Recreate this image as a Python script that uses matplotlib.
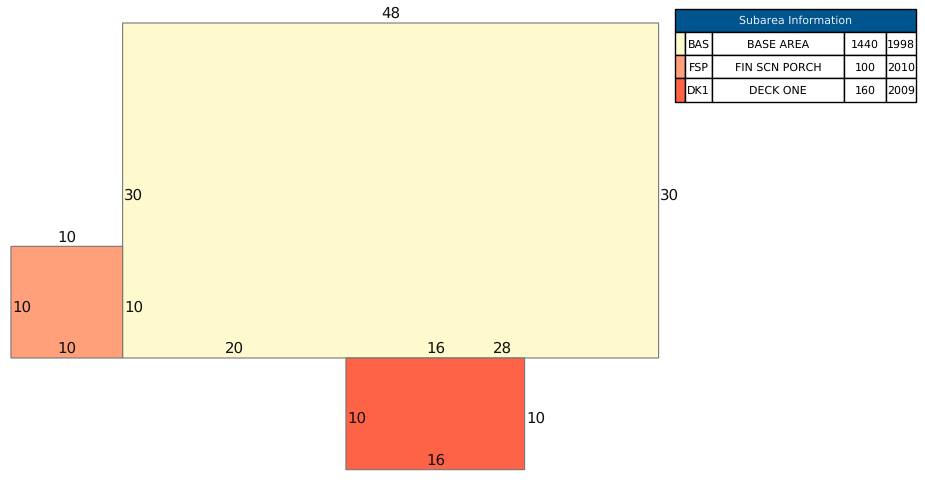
import matplotlib
matplotlib.use('Agg')
import matplotlib.pyplot as plt
from matplotlib.patches import Rectangle

plt.rcParams['text.hinting'] = 'no_hinting'
plt.rcParams['text.hinting_factor'] = 1

# subareas, in feet
codes = ['BAS', 'FSP', 'DK1']
names = ['BASE AREA', 'FIN SCN PORCH', 'DECK ONE']
areas = ['1440', '100', '160']
years = ['1998', '2010', '2009']
colors = ['lemonchiffon', 'lightsalmon', 'tomato']
x0s = [0, -10, 20]
y0s = [0, 0, -10]
widths = [48, 10, 16]
heights = [30, 10, 10]

# dimension labels: text, x, y, where
dim_text = ['48', '30', '30', '20', '28', '16', '10', '10', '10', '10', '10', '10', '16']
dim_x = [24, 0, 48, 10, 34, 28, 0, -5, -10, -5, 20, 36, 28]
dim_y = [30, 15, 15, 0, 0, 0, 5, 10, 5, 0, -5, -5, -10]
dim_side = ['above', 'right', 'right', 'above', 'above', 'above', 'right',
            'above', 'right', 'above', 'right', 'right', 'above']

W, H = 925, 480
scale = 536 / 48.0  # px per foot
left_px = 122.6
base_px = 358.0

fig = plt.figure(figsize=(W / 100, H / 100), dpi=100)
ax = fig.add_axes([0, 0, 1, 1])
ax.set_xlim(-left_px / scale, (W - left_px) / scale)
ax.set_ylim(-(H - base_px) / scale, base_px / scale)
ax.axis('off')

for x, y, w, h, c in zip(x0s, y0s, widths, heights, colors):
    ax.add_patch(Rectangle((x, y), w, h, facecolor=c, edgecolor='#777777', linewidth=0.8, snap=False))

for t, x, y, side in zip(dim_text, dim_x, dim_y, dim_side):
    if side == 'above':
        ax.text(x + 0.03, y + 0.8, t, ha='center', va='center', fontsize=10.6, color='#111111')
    else:
        ax.text(x + 0.12, y - 0.45, t, ha='left', va='center', fontsize=10.6, color='#111111')

# info table, top right
def box(px0, px1, py0, py1):
    return [px0 / W, 1 - py1 / H, (px1 - px0) / W, (py1 - py0) / H]

tax = fig.add_axes(box(675, 916, 9, 102))
tax.axis('off')
tax.set_xlim(0, 241)
tax.set_ylim(93, 0)

col_edges = [0, 10, 37, 169, 211, 241]
row_edges = [23, 46, 69, 93]
tax.add_patch(Rectangle((0, 0), 241, 23, facecolor='#00558f', edgecolor='black',
                        linewidth=1.0, clip_on=False))
tax.text(120.5, 12.2, 'Subarea Information', color='#e8f0f6', fontsize=8.1, ha='center', va='center')

for i in range(len(codes)):
    y0, y1 = row_edges[i], row_edges[i + 1]
    cells = ['', codes[i], names[i], areas[i], years[i]]
    for j, txt in enumerate(cells):
        fc = colors[i] if j == 0 else 'white'
        tax.add_patch(Rectangle((col_edges[j], y0), col_edges[j + 1] - col_edges[j], y1 - y0,
                                facecolor=fc, edgecolor='black', linewidth=1.0, clip_on=False))
        if txt:
            tax.text((col_edges[j] + col_edges[j + 1]) / 2, (y0 + y1) / 2 + 1.1, txt,
                     fontsize=8.1, ha='center', va='center', color='black')

fig.savefig('out.png', dpi=100)
